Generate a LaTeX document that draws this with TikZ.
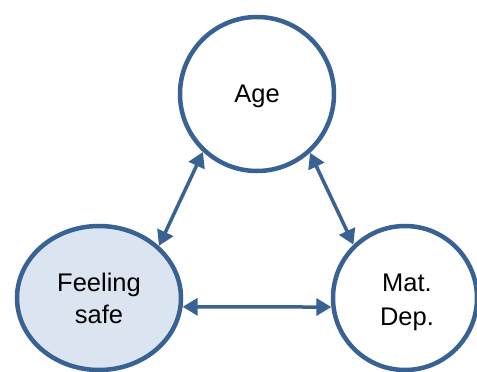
\documentclass[tikz,border=0pt]{standalone}
\usepackage{fontspec}
\setmainfont{Liberation Sans}
\usetikzlibrary{arrows.meta,shapes.geometric}
\definecolor{edgeblue}{RGB}{57,98,148}
\definecolor{palefill}{RGB}{219,228,241}
\tikzset{
  factor/.style={draw=edgeblue, line width=4.5pt, fill=white, inner sep=0pt,
    align=center, font=\fontsize{25.5}{32}\selectfont},
  link/.style={draw=edgeblue, line width=3.5pt,
    {Triangle[length=15pt,width=17pt]}-{Triangle[length=15pt,width=17pt]}}
}
\begin{document}
\begin{tikzpicture}[x=1pt,y=-1pt]
  \useasboundingbox (0,0) rectangle (477,372);
  % the three factors
  \node[factor, circle, minimum size=154pt] (age) at (257,94) {};
  \node at (257,96) [font=\fontsize{25.5}{32}\selectfont] (agetext) {Age};
  \node[factor, ellipse, fill=palefill, minimum width=164pt, minimum height=144pt]
    (safe) at (99,298) {Feeling\\safe};
  \node[factor, circle, minimum size=144pt,
    font=\fontsize{25.5}{34}\selectfont] (dep) at (405,298) {};
  \node at (407,302) [align=center, font=\fontsize{25.5}{34}\selectfont]
    (deptext) {Mat.\\Dep.};
  % pairwise associations
  \draw[link] (age.227) -- (safe.41);
  \draw[link] (age.312) -- (dep.134);
  \draw[link] (safe.-6) -- (dep.187);
\end{tikzpicture}
\end{document}
